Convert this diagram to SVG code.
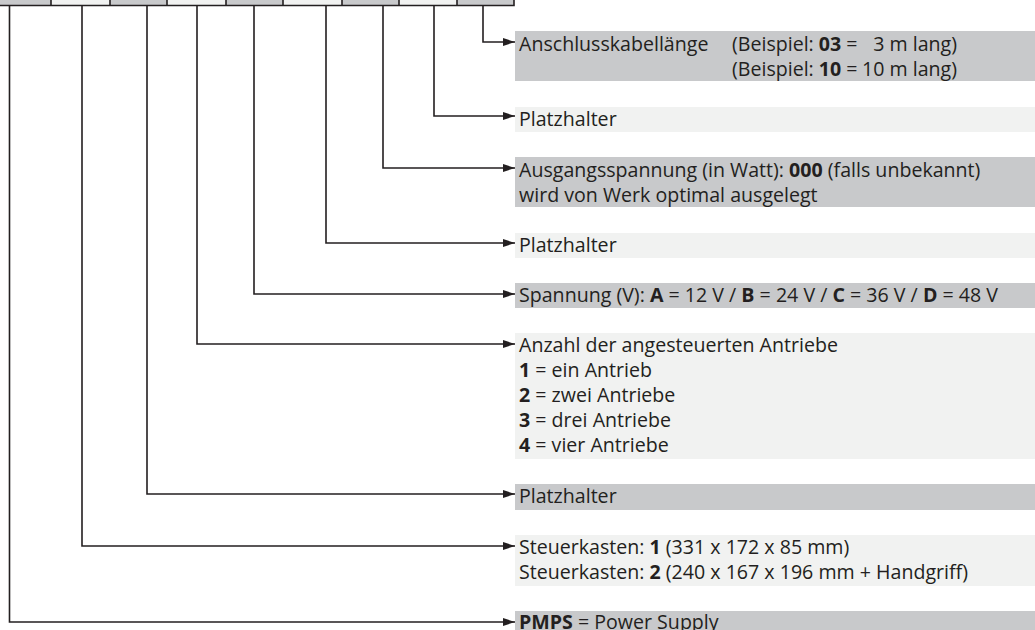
<svg xmlns="http://www.w3.org/2000/svg" width="1035" height="630" viewBox="0 0 1035 630">
<style>
.g{fill:#c8c9cb}
.l{fill:#f1f2f1}
.t{font-family:"Open Sans","Liberation Sans",sans-serif;font-size:19.6px;fill:#231f20}
.b{font-weight:bold}
.c{fill:none;stroke:#231f20;stroke-width:1.6}
</style>
<defs>
<marker id="ah" viewBox="0 0 12 8" refX="12" refY="4" markerWidth="12" markerHeight="8" markerUnits="userSpaceOnUse" orient="auto">
<path d="M0,0 L12,4 L0,8 Z" fill="#231f20"/>
</marker>
</defs>
<rect width="1035" height="630" fill="#fff"/>
<g id="code-strip">
<rect class="g" x="-2" y="-10" width="53" height="16"/>
<rect class="l" x="51" y="-10" width="59" height="16"/>
<rect class="g" x="110" y="-10" width="57" height="16"/>
<rect class="l" x="167" y="-10" width="59" height="16"/>
<rect class="g" x="226" y="-10" width="57" height="16"/>
<rect class="l" x="283" y="-10" width="59" height="16"/>
<rect class="g" x="342" y="-10" width="57" height="16"/>
<rect class="l" x="399" y="-10" width="58" height="16"/>
<rect class="g" x="457" y="-10" width="57" height="16"/>
<path class="c" d="M-2,5.5 H514 V-10 M51,-10 V5.5 M110,-10 V5.5 M167,-10 V5.5 M226,-10 V5.5 M283,-10 V5.5 M342,-10 V5.5 M399,-10 V5.5 M457,-10 V5.5"/>
</g>
<g id="connectors">
<path class="c" marker-end="url(#ah)" d="M483,6 V42 H515"/>
<path class="c" marker-end="url(#ah)" d="M434,6 V116 H515"/>
<path class="c" marker-end="url(#ah)" d="M383,6 V168 H515"/>
<path class="c" marker-end="url(#ah)" d="M326,6 V243 H515"/>
<path class="c" marker-end="url(#ah)" d="M254,6 V294 H515"/>
<path class="c" marker-end="url(#ah)" d="M197,6 V344 H515"/>
<path class="c" marker-end="url(#ah)" d="M147,6 V494 H515"/>
<path class="c" marker-end="url(#ah)" d="M82,6 V546 H515"/>
<path class="c" marker-end="url(#ah)" d="M9.5,6 V622 H515"/>
</g>
<g id="n-kabel">
<rect class="g" x="515" y="31" width="520" height="50"/>
<text class="t" x="519" y="51">Anschlusskabellänge</text>
<text class="t" x="732" y="51">(Beispiel: <tspan class="b">03</tspan> =</text>
<text class="t" x="957" y="51" text-anchor="end">3 m lang)</text>
<text class="t" x="732" y="76">(Beispiel: <tspan class="b">10</tspan> =</text>
<text class="t" x="957" y="76" text-anchor="end">10 m lang)</text>
</g>
<g id="n-platz1">
<rect class="l" x="515" y="107" width="520" height="25"/>
<text class="t" x="519" y="126">Platzhalter</text>
</g>
<g id="n-ausgang">
<rect class="g" x="515" y="157" width="520" height="50"/>
<text class="t" x="519" y="177">Ausgangsspannung (in Watt): <tspan class="b">000</tspan> (falls unbekannt)</text>
<text class="t" x="519" y="202">wird von Werk optimal ausgelegt</text>
</g>
<g id="n-platz2">
<rect class="l" x="515" y="233" width="520" height="25"/>
<text class="t" x="519" y="252">Platzhalter</text>
</g>
<g id="n-spannung">
<rect class="g" x="515" y="283" width="520" height="25"/>
<text class="t" x="519" y="302">Spannung (V): <tspan class="b">A</tspan> = 12 V / <tspan class="b">B</tspan> = 24 V / <tspan class="b">C</tspan> = 36 V / <tspan class="b">D</tspan> = 48 V</text>
</g>
<g id="n-anzahl">
<rect class="l" x="515" y="333" width="520" height="126"/>
<text class="t" x="519" y="352">Anzahl der angesteuerten Antriebe</text>
<text class="t" x="519" y="377"><tspan class="b">1</tspan> = ein Antrieb</text>
<text class="t" x="519" y="402"><tspan class="b">2</tspan> = zwei Antriebe</text>
<text class="t" x="519" y="427"><tspan class="b">3</tspan> = drei Antriebe</text>
<text class="t" x="519" y="452"><tspan class="b">4</tspan> = vier Antriebe</text>
</g>
<g id="n-platz3">
<rect class="g" x="515" y="484" width="520" height="26"/>
<text class="t" x="519" y="503">Platzhalter</text>
</g>
<g id="n-steuer">
<rect class="l" x="515" y="535" width="520" height="51"/>
<text class="t" x="519" y="554">Steuerkasten: <tspan class="b">1</tspan> (331 x 172 x 85 mm)</text>
<text class="t" x="519" y="579">Steuerkasten: <tspan class="b">2</tspan> (240 x 167 x 196 mm + Handgriff)</text>
</g>
<g id="n-pmps">
<rect class="g" x="515" y="611" width="520" height="25"/>
<text class="t" x="519" y="629"><tspan class="b">PMPS</tspan> = Power Supply</text>
</g>
</svg>
